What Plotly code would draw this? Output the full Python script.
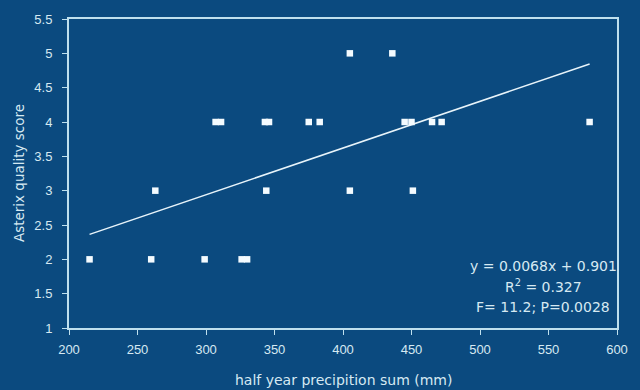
import plotly.graph_objects as go

precip = [215, 260, 299, 326, 330,
          263, 344, 405, 451,
          307, 311, 343, 346, 375, 383, 445, 450, 465, 472, 580,
          405, 436]
score = [2, 2, 2, 2, 2,
         3, 3, 3, 3,
         4, 4, 4, 4, 4, 4, 4, 4, 4, 4, 4,
         5, 5]

slope = 0.0068
intercept = 0.901
x_ticks = [200, 250, 300, 350, 400, 450, 500, 550, 600]
y_ticks = [1, 1.5, 2, 2.5, 3, 3.5, 4, 4.5, 5, 5.5]
stats_lines = ["y = 0.0068x + 0.901", "R<sup>2</sup> = 0.327", "F= 11.2; P=0.0028"]

bg = "#0b4a7f"
fg = "#d6e9f2"
axc = "#bfe0ee"
font_t = "DejaVu Sans, Liberation Sans, Arial"
font_n = "Liberation Sans, Arial"

xmin, xmax = min(precip), max(precip)
trend_x = [xmin, xmax]
trend_y = [slope * v + intercept for v in trend_x]

fig = go.Figure()
fig.add_trace(go.Scatter(x=trend_x, y=trend_y, mode="lines",
                         line=dict(color="#e8f4fa", width=1.5), showlegend=False))
fig.add_trace(go.Scatter(x=precip, y=score, mode="markers",
                         marker=dict(symbol="square", size=6.5, color="#f4fbff",
                                     line=dict(width=0)),
                         showlegend=False))

for i, (txt, yy) in enumerate(zip(stats_lines, [0.202, 0.135, 0.067])):
    fig.add_annotation(x=0.865, y=yy, xref="paper", yref="paper", xanchor="center",
                       yanchor="middle", showarrow=False, text=txt,
                       font=dict(family=font_t, size=14, color=fg))

# axis titles
fig.add_annotation(x=0.5, y=-0.167, xref="paper", yref="paper", xanchor="center",
                   yanchor="middle", showarrow=False, text="half year precipition sum (mm)",
                   font=dict(family=font_t, size=14, color=fg))
fig.add_annotation(x=-0.092, y=0.5, xref="paper", yref="paper", xanchor="center",
                   yanchor="middle", showarrow=False, textangle=-90,
                   text="Asterix quality score",
                   font=dict(family=font_t, size=13.5, color=fg))

axis_common = dict(showgrid=False, zeroline=False, showline=True, linecolor=axc, linewidth=2,
                   mirror=True, ticks="outside", tickcolor=axc, ticklen=5, tickwidth=1,
                   tickfont=dict(family=font_n, size=13, color=fg))

fig.update_layout(
    width=640, height=390,
    margin=dict(l=69, r=15, t=16, b=62),
    paper_bgcolor=bg, plot_bgcolor=bg,
    xaxis=dict(range=[200, 600], tickvals=x_ticks, ticktext=[str(v) for v in x_ticks],
               ticklabelstandoff=3, **axis_common),
    yaxis=dict(range=[1, 5.5], tickvals=y_ticks, ticktext=[f"{v:g}" for v in y_ticks],
               ticklabelstandoff=7, **axis_common),
)

fig.write_html("out.html")
